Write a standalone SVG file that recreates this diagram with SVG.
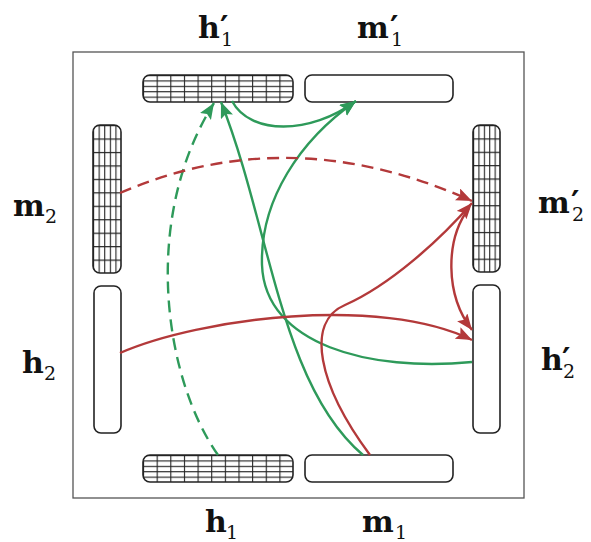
<svg xmlns="http://www.w3.org/2000/svg" width="591" height="542" viewBox="0 0 591 542">
<defs>
<style>
.box{stroke:#222;stroke-width:1.6;fill:#fff}
.gh{stroke:#222;stroke-width:1.6;fill:url(#gridH)}
.gv{stroke:#222;stroke-width:1.6;fill:url(#gridV)}
.g{fill:none;stroke:#2e9a5a;stroke-width:2.4}
.r{fill:none;stroke:#b3393a;stroke-width:2.4}
.d{stroke-dasharray:12 7}
.lb{font-family:"DejaVu Serif","Liberation Serif",serif;font-weight:bold;font-size:30px;fill:#111}
.sb{font-family:"DejaVu Serif","Liberation Serif",serif;font-size:19px;fill:#111}
.pr{font-family:"DejaVu Sans","DejaVu Serif",sans-serif;font-weight:bold;font-size:32px;fill:#111}
</style>
<pattern id="gridH" patternUnits="objectBoundingBox" width="0.090909" height="0.2">
<path d="M0.55,0 V30 M0,0.55 H30" stroke="#222" stroke-width="1.1" fill="none"/>
</pattern>
<pattern id="gridV" patternUnits="objectBoundingBox" width="0.2" height="0.090909">
<path d="M0.55,0 V30 M0,0.55 H30" stroke="#222" stroke-width="1.1" fill="none"/>
</pattern>
<marker id="ag" markerUnits="userSpaceOnUse" markerWidth="18" markerHeight="14" refX="16" refY="6.5" orient="auto">
<path d="M0,0 L16,6.5 L0,13 L3,6.5 z" fill="#2e9a5a"/>
</marker>
<marker id="ar" markerUnits="userSpaceOnUse" markerWidth="18" markerHeight="14" refX="16" refY="6.5" orient="auto">
<path d="M0,0 L16,6.5 L0,13 L3,6.5 z" fill="#b3393a"/>
</marker>
</defs>
<rect x="73" y="52" width="451" height="446" fill="none" stroke="#555" stroke-width="1.3"/>
<g id="node-h1p"><rect class="gh" x="143" y="75" width="150" height="27" rx="7"/></g>
<g id="node-m1p"><rect class="box" x="305" y="75" width="148" height="27" rx="7"/></g>
<g id="node-m2"><rect class="gv" x="93" y="125" width="28" height="148" rx="7"/></g>
<g id="node-h2"><rect class="box" x="94" y="286" width="27" height="147" rx="7"/></g>
<g id="node-m2p"><rect class="gv" x="473" y="125" width="27" height="147" rx="7"/></g>
<g id="node-h2p"><rect class="box" x="473" y="285" width="27" height="148" rx="7"/></g>
<g id="node-h1"><rect class="gh" x="143" y="455" width="150" height="27" rx="7"/></g>
<g id="node-m1"><rect class="box" x="305" y="455" width="148" height="27" rx="7"/></g>
<g id="connectors">
<path class="g d" d="M218,455 C165,380 140,220 214,103" marker-end="url(#ag)"/>
<path class="g" d="M363,455 C280,385 270,225 221,102" marker-end="url(#ag)"/>
<path class="g" d="M472,362 C370,372 265,345 262,265 C260,200 300,140 356,101" marker-end="url(#ag)"/>
<path class="g" d="M232,101 C250,135 310,135 356,101" marker-end="url(#ag)"/>
<path class="r d" d="M120,193 Q290,119 472,201" marker-end="url(#ar)"/>
<path class="r" d="M120,353 C200,318 380,295 472,340" marker-end="url(#ar)"/>
<path class="r" d="M370,455 C318,385 305,322 345,305 C390,285 440,240 472,203" marker-end="url(#ar)"/>
<path class="r" d="M469,208 C445,240 445,295 472,330" marker-end="url(#ar)"/>
</g>
<g id="labels">
<text class="lb" x="198" y="38">h</text><text class="pr" x="220" y="38">′</text><text class="sb" x="221" y="46">1</text>
<text class="lb" x="357" y="38">m</text><text class="pr" x="390" y="38">′</text><text class="sb" x="391" y="46">1</text>
<text class="lb" x="13" y="216">m</text><text class="sb" x="45" y="223">2</text>
<text class="lb" x="22" y="373">h</text><text class="sb" x="44" y="380">2</text>
<text class="lb" x="538" y="213">m</text><text class="pr" x="571" y="213">′</text><text class="sb" x="572" y="221">2</text>
<text class="lb" x="541" y="370">h</text><text class="pr" x="562" y="370">′</text><text class="sb" x="563" y="378">2</text>
<text class="lb" x="205" y="532">h</text><text class="sb" x="226" y="539">1</text>
<text class="lb" x="362" y="532">m</text><text class="sb" x="395" y="539">1</text>
</g>
</svg>
